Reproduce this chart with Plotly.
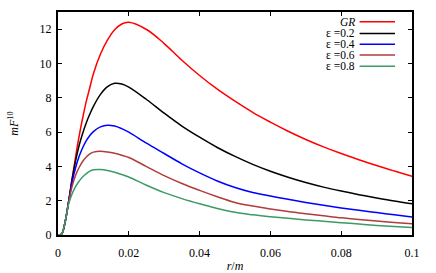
import plotly.graph_objects as go

r = [0, 0.001, 0.002, 0.003, 0.004, 0.005, 0.006, 0.007, 0.008, 0.009, 0.01,
     0.012, 0.014, 0.016, 0.018, 0.02, 0.025, 0.03, 0.035, 0.04, 0.045, 0.05,
     0.055, 0.06, 0.065, 0.07, 0.075, 0.08, 0.085, 0.09, 0.095, 0.1]

gr = [0, 0.05, 0.75, 1.95, 3.3, 4.6, 5.8, 6.85, 7.8, 8.6, 9.4,
      10.55, 11.38, 11.96, 12.3, 12.4, 11.98, 11.16, 10.19, 9.3, 8.5, 7.8,
      7.15, 6.58, 6.05, 5.57, 5.14, 4.75, 4.39, 4.05, 3.73, 3.42]
e02 = [0, 0.05, 0.75, 1.95, 3.25, 4.35, 5.25, 5.95, 6.55, 7.05, 7.5,
       8.2, 8.65, 8.84, 8.8, 8.62, 7.9, 7.1, 6.35, 5.7, 5.1, 4.58,
       4.12, 3.72, 3.37, 3.06, 2.79, 2.56, 2.35, 2.16, 1.98, 1.82]
e04 = [0, 0.05, 0.75, 1.95, 3.1, 3.95, 4.6, 5.1, 5.5, 5.8, 6.03,
       6.3, 6.4, 6.35, 6.2, 6.0, 5.35, 4.75, 4.15, 3.62, 3.15, 2.77,
       2.48, 2.27, 2.08, 1.9, 1.73, 1.58, 1.44, 1.31, 1.18, 1.05]
e06 = [0, 0.05, 0.75, 1.9, 2.85, 3.5, 3.95, 4.3, 4.55, 4.73, 4.83,
       4.88, 4.84, 4.76, 4.65, 4.52, 3.99, 3.46, 3.0, 2.6, 2.23, 1.9,
       1.69, 1.52, 1.37, 1.24, 1.12, 1.0, 0.9, 0.81, 0.73, 0.65]
e08 = [0, 0.05, 0.75, 1.8, 2.4, 2.83, 3.15, 3.4, 3.58, 3.72, 3.8,
       3.82, 3.76, 3.66, 3.53, 3.38, 2.9, 2.47, 2.12, 1.82, 1.55, 1.32,
       1.18, 1.07, 0.97, 0.88, 0.8, 0.72, 0.64, 0.56, 0.49, 0.43]

names = ["<i>GR</i>", "ε =0.2", "ε =0.4", "ε =0.6", "ε =0.8"]
series = [gr, e02, e04, e06, e08]
colors = ["#ff0000", "#000000", "#0000ff", "#b03c3c", "#3c9a64"]

xticks = [0, 0.02, 0.04, 0.06, 0.08, 0.1]
xticklabels = ["0", "0.02", "0.04", "0.06", "0.08", "0.1"]
yticks = [0, 2, 4, 6, 8, 10, 12]

FONT = "Liberation Serif"

fig = go.Figure()
for name, ys, c in zip(names, series, colors):
    fig.add_trace(go.Scatter(x=r, y=ys, mode="lines", name=name,
                             line=dict(color=c, width=1.5, shape="spline", smoothing=1.0),
                             showlegend=False))

# gnuplot-style key: text then line sample
leg_y = [0.956, 0.904, 0.855, 0.807, 0.757]
for name, c, yy in zip(names, colors, leg_y):
    fig.add_annotation(x=0.845, y=yy, xref="paper", yref="paper", text=name,
                       showarrow=False, xanchor="right", yanchor="middle",
                       font=dict(family=FONT, size=11.5, color="black"))
    fig.add_shape(type="line", xref="paper", yref="paper", x0=0.852, x1=0.952,
                  y0=yy, y1=yy, line=dict(color=c, width=1.5))

axis_common = dict(showline=True, linecolor="black", linewidth=2, mirror="ticks",
                   ticks="inside", ticklen=4, tickcolor="black", tickwidth=1,
                   showgrid=False, zeroline=False, automargin=False,
                   tickfont=dict(family=FONT, size=12, color="black"))

fig.update_xaxes(range=[0, 0.1], tickvals=xticks, ticktext=xticklabels, ticklabelstandoff=6,
                 title=dict(text="<i>r</i>/<i>m</i>", font=dict(family=FONT, size=12, color="black"), standoff=8),
                 **axis_common)
fig.update_yaxes(range=[0, 13], tickvals=yticks, ticklabelstandoff=2,
                 title=dict(text="<i>mF</i><sup>10</sup>", font=dict(family=FONT, size=12, color="black"), standoff=18),
                 **axis_common)

fig.update_layout(width=436, height=273, margin=dict(l=58, r=24, t=12, b=38),
                  plot_bgcolor="white", paper_bgcolor="white")

fig.write_html("out.html", config={"displayModeBar": False},
               post_script="document.body.style.margin='0';")
